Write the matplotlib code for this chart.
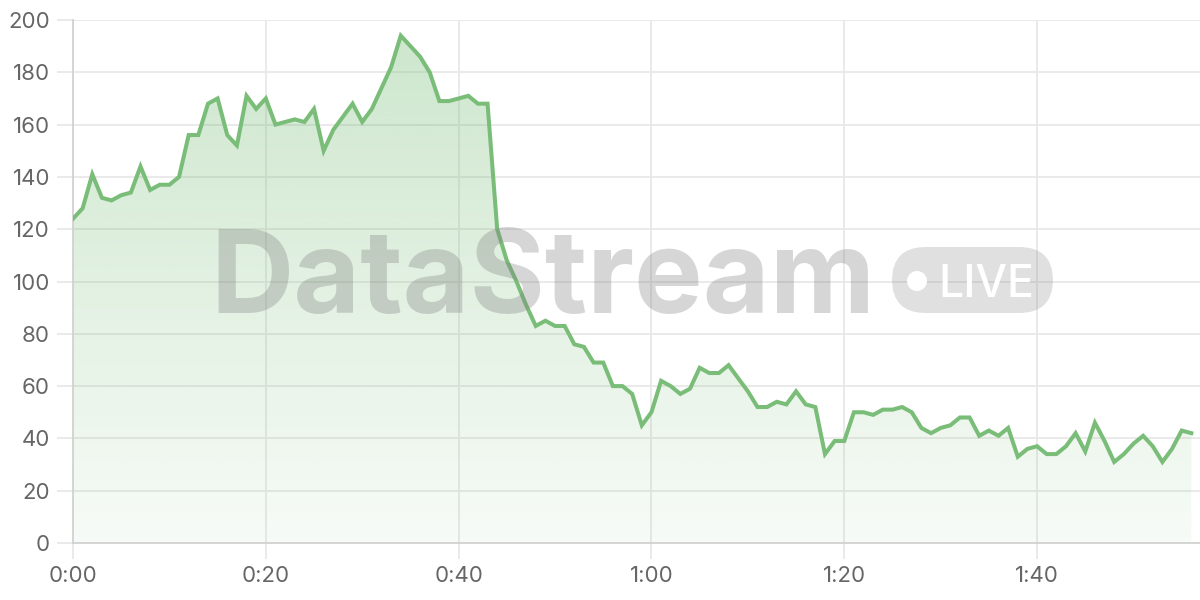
import numpy as np
import matplotlib.pyplot as plt
from matplotlib.colors import to_rgb
from matplotlib.patches import FancyBboxPatch, Circle
from matplotlib.ticker import FuncFormatter, MultipleLocator

plt.rcParams['font.family'] = ['Inter', 'DejaVu Sans']

# one reading per minute
minutes = list(range(117))
values = [124, 128, 141, 132, 131, 133, 134, 144, 135, 137,
          137, 140, 156, 156, 168, 170, 156, 152, 171, 166,
          170, 160, 161, 162, 161, 166, 150, 158, 163, 168,
          161, 166, 174, 182, 194, 190, 186, 180, 169, 169,
          170, 171, 168, 168, 120, 108, 100, 91, 83, 85,
          83, 83, 76, 75, 69, 69, 60, 60, 57, 45,
          50, 62, 60, 57, 59, 67, 65, 65, 68, 63,
          58, 52, 52, 54, 53, 58, 53, 52, 34, 39,
          39, 50, 50, 49, 51, 51, 52, 50, 44, 42,
          44, 45, 48, 48, 41, 43, 41, 44, 33, 36,
          37, 34, 34, 37, 42, 35, 46, 39, 31, 34,
          38, 41, 37, 31, 36, 43, 42]
x_ticks = [0, 20, 40, 60, 80, 100]

green = "#79bd79"
grid_c = "#e8e8e8"

fig = plt.figure(figsize=(12, 6), dpi=100)
ax = fig.add_axes([73 / 1200, 57 / 600, 1 - 73 / 1200, 523 / 600])

x = np.array(minutes)
y = np.array(values)

# gradient fill under the line (strong at top, fading to bottom)
poly = ax.fill_between(x, y, 0, facecolor="none", edgecolor="none")
r, g, b = to_rgb(green)
grad = np.zeros((256, 1, 4))
grad[:, 0, 0], grad[:, 0, 1], grad[:, 0, 2] = r, g, b
grad[:, 0, 3] = np.linspace(0.38, 0.06, 256)
im = ax.imshow(grad, extent=[0, x[-1], 0, 200], origin="upper", aspect="auto", zorder=1)
im.set_clip_path(poly.get_paths()[0], transform=ax.transData)

ax.plot(x, y, color=green, lw=2.9, zorder=4, solid_joinstyle="miter")

ax.set_xlim(0, 116.9)
ax.set_ylim(0, 200)
ax.set_xticks(x_ticks)
ax.yaxis.set_major_locator(MultipleLocator(20))
ax.xaxis.set_major_formatter(FuncFormatter(lambda m, p: f"{int(m // 60)}:{int(m % 60):02d}"))

ax.grid(True, color=grid_c, lw=1.3, zorder=0)
ax.set_axisbelow(True)
for s in ["top", "right"]:
    ax.spines[s].set_visible(False)
ax.spines["left"].set_color("#d2d2d2")
ax.spines["bottom"].set_color("#d2d2d2")
ax.spines["left"].set_linewidth(1.3)
ax.spines["bottom"].set_linewidth(1.3)
ax.tick_params(axis="both", length=11.5, width=1.3, color=grid_c,
               labelsize=16, labelcolor="#666666", pad=5)

# watermark
fig.text(210 / 1200, 1 - 313 / 600, "DataStream", fontsize=83, fontweight="bold",
         color="#808080", alpha=0.32, ha="left", va="baseline", zorder=3)
pill = FancyBboxPatch((892 / 1200, 1 - 313 / 600), 161 / 1200, 66 / 600,
                      boxstyle="round,pad=0,rounding_size=0.028",
                      transform=fig.transFigure, facecolor="#808080", alpha=0.24,
                      edgecolor="none", zorder=3, mutation_aspect=2)
fig.patches.append(pill)
fig.patches.append(Circle((917, 600 - 281), 10, transform=None, facecolor="white",
                          edgecolor="none", zorder=3.5))
fig.text(938 / 1200, 1 - 297 / 600, "LIVE", fontsize=32, fontweight="medium",
         color="white", ha="left", va="baseline", zorder=3.5)

fig.savefig("out.png", dpi=100)
